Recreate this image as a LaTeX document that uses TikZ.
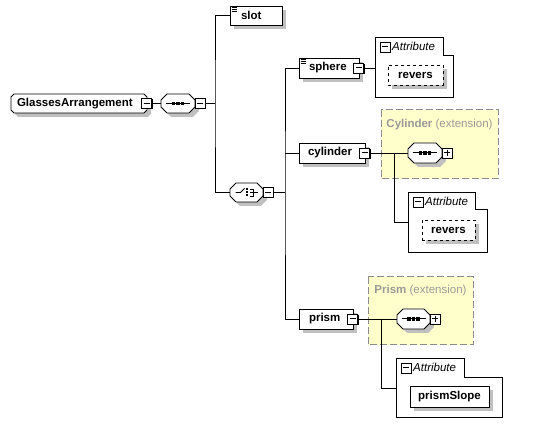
\documentclass[tikz,border=0pt]{standalone}
\usepackage{fontspec}
\setmainfont{Liberation Sans}
\usetikzlibrary{shadows}
\pgfdeclarelayer{background}
\pgfsetlayers{background,main}
\definecolor{shad}{HTML}{C0C0C0}
\definecolor{extfill}{HTML}{FFFFCC}
\definecolor{extdraw}{HTML}{8C8C8C}
\definecolor{exttext}{HTML}{9A9A9A}
\newcommand{\octpath}[4]{([xshift=#3+#2,yshift=#4]#1.north west) -- ([xshift=#3-#2,yshift=#4]#1.north east) -- ([xshift=#3,yshift=#4-#2]#1.north east) -- ([xshift=#3,yshift=#4+#2]#1.south east) -- ([xshift=#3-#2,yshift=#4]#1.south east) -- ([xshift=#3+#2,yshift=#4]#1.south west) -- ([xshift=#3,yshift=#4+#2]#1.south west) -- ([xshift=#3,yshift=#4-#2]#1.north west) -- cycle}
\newcommand{\octo}[2]{%
  \begin{pgfonlayer}{background}
    \fill[shad] \octpath{#1}{#2}{4pt}{-4pt};
    \draw[fill=white, line width=0.8pt] \octpath{#1}{#2}{0pt}{0pt};
  \end{pgfonlayer}}
\newcommand{\seqicon}[1]{%
  \draw[line width=1pt] (#1.center) ++(-12,0) -- ++(24,0);
  \foreach \dx in {-4.5,0,4.5} \fill (#1.center) ++(\dx-1.6,-1.6) rectangle ++(3.2,3.2);}
\newcommand{\lineicon}[1]{%
  \foreach \dy in {1.5,3.5,5.5} \draw[line width=0.8pt] (#1.north west) ++(1.5,\dy) -- ++(5.5,0);}
\begin{document}
\begin{tikzpicture}[x=1pt,y=-1pt,
  font=\fontsize{11.5}{13.5}\selectfont,
  conn/.style={draw=black, line width=0.8pt},
  shd/.style={drop shadow={shadow xshift=4pt, shadow yshift=-4pt, fill=shad, opacity=1, draw=none}},
  elem/.style={draw=black, fill=white, line width=0.8pt, minimum height=20pt, inner sep=0pt, outer sep=0pt, align=left, font=\fontsize{11.5}{13.5}\selectfont\bfseries, anchor=north west, shd},
  leaf/.style={elem, align=center},
  comp/.style={inner sep=0pt, outer sep=0pt, anchor=north west, minimum height=20pt},
  mbox/.style={draw=black, fill=white, line width=0.8pt, minimum size=10pt, inner sep=0pt, outer sep=0pt,
    drop shadow={shadow xshift=1pt, shadow yshift=-1pt, fill=black, opacity=1, draw=none},
    path picture={\draw[line width=1pt] ([xshift=2pt]path picture bounding box.west) -- ([xshift=-2pt]path picture bounding box.east);}},
  pbox/.style={draw=black, fill=white, line width=0.8pt, minimum size=10pt, inner sep=0pt, outer sep=0pt,
    drop shadow={shadow xshift=1pt, shadow yshift=-1pt, fill=black, opacity=1, draw=none},
    path picture={\draw[line width=1pt] ([xshift=2pt]path picture bounding box.west) -- ([xshift=-2pt]path picture bounding box.east);
      \draw[line width=1pt] ([yshift=-2pt]path picture bounding box.north) -- ([yshift=2pt]path picture bounding box.south);}},
  attlbl/.style={anchor=west, inner sep=0pt, font=\fontsize{11.5}{13.5}\selectfont\itshape},
  attr/.style={draw=black, line width=0.8pt, fill=white},
  extbox/.style={fill=extfill, draw=extdraw, line width=1pt, dash pattern=on 7pt off 3pt},
]
\useasboundingbox (0,0) rectangle (541,435);

% extension boxes
\begin{pgfonlayer}{background}
  \path[extbox] (381,110) rectangle (498,179);
  \path[extbox] (368,277) rectangle (473,345);
\end{pgfonlayer}
\node[text=exttext, inner sep=0pt] (cylx) at (439.5,125) {\textbf{Cylinder} (extension)};
\node[text=exttext, inner sep=0pt] (prix) at (420.5,291) {\textbf{Prism} (extension)};

% root element
\node[comp, minimum width=136pt, minimum height=19pt, align=left, text width=136pt, font=\fontsize{11.5}{13.5}\selectfont\bfseries] (GA) at (11,94) {\hspace*{6pt}GlassesArrangement};
\octo{GA}{3pt}
\node[mbox] (GAm) at ([xshift=-0.5pt]GA.east) {};

% sequence compositor
\node[comp, minimum width=34pt, minimum height=19pt] (seq1) at (161,94) {};
\octo{seq1}{6pt}
\seqicon{seq1}
\node[mbox, anchor=west] (seq1m) at (seq1.east) {};

% choice compositor
\node[comp, minimum width=33pt, minimum height=19pt] (ch) at (230,183) {};
\octo{ch}{6pt}
\draw[line width=0.8pt] (ch.center) ++(-11,0) -- ++(5,0) -- ++(4,-4);
\foreach \dy in {-3,0,3} \fill (ch.center) ++(-0.5,\dy-1) rectangle ++(2,2);
\draw[line width=0.8pt] (ch.center) ++(3.5,-3.5) -- ++(3,0) -- ++(0,7) -- ++(-3,0);
\draw[line width=0.8pt] (ch.center) ++(3.5,0) -- ++(8,0);
\node[mbox, anchor=west] (chm) at (ch.east) {};

% slot
\node[elem, text width=52pt, minimum height=19pt] (slot) at (230,6) {\hspace*{11pt}slot};
\lineicon{slot}

% sphere
\node[elem, text width=60pt] (sphere) at (299,58) {\hspace*{10pt}sphere};
\lineicon{sphere}
\node[mbox] (spherem) at ([xshift=-0.5pt]sphere.east) {};

% cylinder
\node[elem, text width=66pt] (cyl) at (299,143) {\hspace*{9pt}cylinder};
\node[mbox] (cylm) at ([xshift=-0.5pt]cyl.east) {};
\node[comp, minimum width=34pt] (seq2) at (408,143) {};
\octo{seq2}{6pt}
\seqicon{seq2}
\node[pbox, anchor=west] (seq2p) at (seq2.east) {};

% prism
\node[elem, text width=54pt] (prism) at (299,309) {\hspace*{10pt}prism};
\node[mbox] (prismm) at ([xshift=-0.5pt]prism.east) {};
\node[comp, minimum width=33pt] (seq3) at (397,309) {};
\octo{seq3}{6pt}
\seqicon{seq3}
\node[pbox, anchor=west] (seq3p) at (seq3.east) {};

% attribute groups
\draw[attr] (375,37) -- (443,37) -- (443,55) -- (453,55) -- (453,97) -- (375,97) -- cycle;
\coordinate (A1) at (375,68);
\node[mbox] (A1m) at (385,47) {};
\node[attlbl] (A1t) at (392,46.5) {Attribute};
\node[leaf, dashed, text width=55pt] (rev1) at (388,65) {revers};

\draw[attr] (408,192) -- (475,192) -- (475,209) -- (487,209) -- (487,252) -- (408,252) -- cycle;
\coordinate (A2) at (408,222);
\node[mbox] (A2m) at (418,202) {};
\node[attlbl] (A2t) at (425,201.5) {Attribute};
\node[leaf, dashed, text width=53pt] (rev2) at (422,220) {revers};

\draw[attr] (396,358) -- (464,358) -- (464,377) -- (502,377) -- (502,417) -- (396,417) -- cycle;
\coordinate (A3) at (396,388);
\node[mbox] (A3m) at (406,368) {};
\node[attlbl] (A3t) at (413,367.5) {Attribute};
\node[leaf, text width=79pt, minimum height=21pt] (pslope) at (410,386) {prismSlope};

% connectors
\draw[conn] (GAm.east) -- (seq1.west);
\draw[conn] (seq1m.east) -- ++(10,0) coordinate (j1);
\draw[conn] (slot.west) -| (j1) |- (ch.west);
\draw[conn] (chm.east) -- ++(12,0) coordinate (j2);
\draw[conn] (sphere.west) -| (j2) |- (prism.west);
\draw[conn] (j2 |- cyl.west) -- (cyl.west);
\draw[conn] (spherem.east) -- (spherem.east -| A1);
\draw[conn] (cylm.east) -- (seq2.west);
\draw[conn] (cylm.east) ++(25,0) coordinate (j3) |- (A2);
\draw[conn] (prismm.east) -- (seq3.west);
\draw[conn] (prismm.east) ++(24,0) coordinate (j4) |- (A3);
\end{tikzpicture}
\end{document}
